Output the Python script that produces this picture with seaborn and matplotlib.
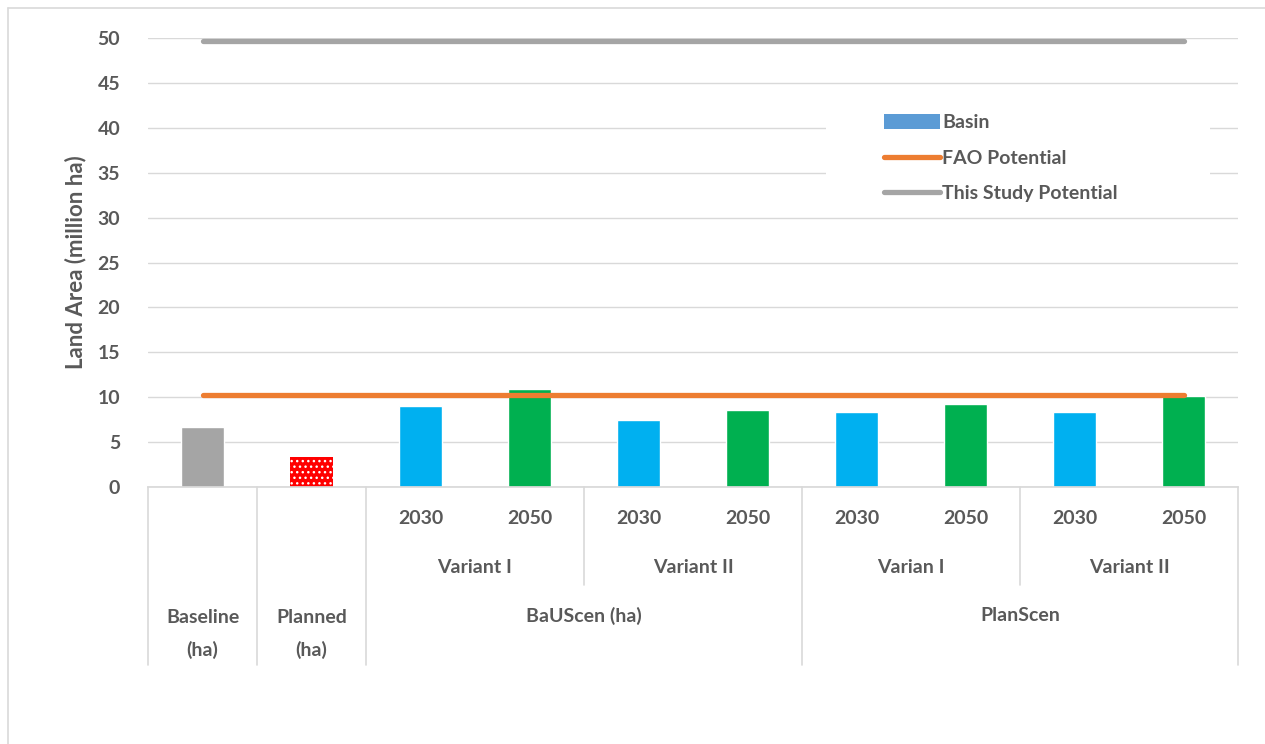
import numpy as np
import pandas as pd
import matplotlib.pyplot as plt
import matplotlib.transforms as mtransforms
from matplotlib.patches import Rectangle, Patch
from matplotlib.lines import Line2D
import seaborn as sns

# Data
bar_ids = ["Baseline", "Planned", "BaU V1 2030", "BaU V1 2050", "BaU V2 2030", "BaU V2 2050",
           "Plan V1 2030", "Plan V1 2050", "Plan V2 2030", "Plan V2 2050"]
basin = [6.7, 3.3, 9.0, 10.9, 7.5, 8.6, 8.4, 9.2, 8.4, 10.1]
fao_potential = [10.3, 10.3, 10.3, 10.3, 10.3, 10.3, 10.3, 10.3, 10.3, 10.3]
study_potential = [49.7, 49.7, 49.7, 49.7, 49.7, 49.7, 49.7, 49.7, 49.7, 49.7]
year_labels = ["", "", "2030", "2050", "2030", "2050", "2030", "2050", "2030", "2050"]
variant_labels = ["Variant I", "Variant II", "Varian I", "Variant II"]
scenario_labels = ["Baseline\n(ha)", "Planned\n(ha)", "BaUScen (ha)", "PlanScen"]

bar_colors = ["#A5A5A5", "#FF0000", "#00B0F0", "#00B050", "#00B0F0", "#00B050",
              "#00B0F0", "#00B050", "#00B0F0", "#00B050"]
txt = "#595959"
grid_c = "#D9D9D9"

sns.set_theme(style="white")
plt.rcParams['font.family'] = ['Lato', 'DejaVu Sans']
plt.rcParams['font.weight'] = 'bold'

df = pd.DataFrame({"id": bar_ids, "value": basin})

fig = plt.figure(figsize=(12.65, 7.44), dpi=100)
W, H = 1265, 744
ax = fig.add_axes([148 / W, (H - 487) / H, 1090 / W, 449 / H])

sns.barplot(data=df, x="id", y="value", hue="id", palette=bar_colors,
            legend=False, width=0.4, saturation=1, ax=ax, zorder=2)

# dotted fill for the planned bar
planned = ax.patches[1]
planned.set_hatch("...")
planned.set_edgecolor("white")
planned.set_linewidth(0)

x = np.arange(len(bar_ids))
sns.lineplot(x=x, y=fao_potential, color="#ED7D31", lw=3.8, ax=ax, zorder=4,
             solid_capstyle="round")
sns.lineplot(x=x, y=study_potential, color="#A5A5A5", lw=3.8, ax=ax, zorder=4,
             solid_capstyle="round")

ax.set_xlim(-0.5, 9.5)
ax.set_ylim(0, 50)
ax.set_yticks(range(0, 51, 5))
ax.yaxis.grid(True, color=grid_c, lw=1)
ax.set_axisbelow(True)
for s in ["top", "right", "left"]:
    ax.spines[s].set_visible(False)
ax.spines["bottom"].set_color(grid_c)
ax.set_xticks([])
ax.set_xlabel("")
ax.tick_params(axis="y", length=0, pad=20, labelsize=14, labelcolor=txt)
for lab in ax.get_yticklabels():
    lab.set_fontweight("bold")
ax.set_ylabel("Land Area (million ha)", fontsize=16, fontweight="bold", color=txt, labelpad=8)

# category table under the axis
trans = mtransforms.blended_transform_factory(ax.transData, ax.transAxes)
for xb in [-0.5, 0.5, 1.5, 5.5, 9.5]:
    ax.plot([xb, xb], [0, -0.396], transform=trans, color=grid_c, lw=1.2, clip_on=False)
for xb in [3.5, 7.5]:
    ax.plot([xb, xb], [0, -0.218], transform=trans, color=grid_c, lw=1.2, clip_on=False)

tkw = dict(transform=trans, ha="center", va="center", color=txt, fontsize=14,
           fontweight="bold", clip_on=False)
for i, lab in enumerate(year_labels):
    if lab:
        ax.text(i, -0.071, lab, **tkw)
for i, lab in enumerate(variant_labels):
    ax.text(2.5 + 2 * i, -0.18, lab, **tkw)
ax.text(0, -0.327, scenario_labels[0], linespacing=1.95, **tkw)
ax.text(1, -0.327, scenario_labels[1], linespacing=1.95, **tkw)
ax.text(3.5, -0.287, scenario_labels[2], **tkw)
ax.text(7.5, -0.287, scenario_labels[3], **tkw)

# legend with a white box that hides the gridlines
ax.add_patch(Rectangle((0.622, 0.63), 0.352, 0.23, transform=ax.transAxes,
                       facecolor="white", edgecolor="none", zorder=1.5))
handles = [Patch(facecolor="#5B9BD5", edgecolor="none"),
           Line2D([], [], color="#ED7D31", lw=3.8, solid_capstyle="round"),
           Line2D([], [], color="#A5A5A5", lw=3.8, solid_capstyle="round")]
leg = ax.legend(handles, ["Basin", "FAO Potential", "This Study Potential"],
                loc="upper left", bbox_to_anchor=(0.675, 0.83), frameon=False,
                fontsize=14, labelspacing=0.95, handlelength=2.9, handleheight=0.75,
                handletextpad=0.1, borderpad=0, borderaxespad=0)
for t in leg.get_texts():
    t.set_color(txt)
    t.set_fontweight("bold")

# outer chart border
fig.add_artist(Line2D([8 / W, 8 / W], [0, (H - 8) / H], color=grid_c, lw=1.2,
                      transform=fig.transFigure))
fig.add_artist(Line2D([8 / W, 1], [(H - 8) / H, (H - 8) / H], color=grid_c, lw=1.2,
                      transform=fig.transFigure))

fig.savefig("out.png", dpi=100)
